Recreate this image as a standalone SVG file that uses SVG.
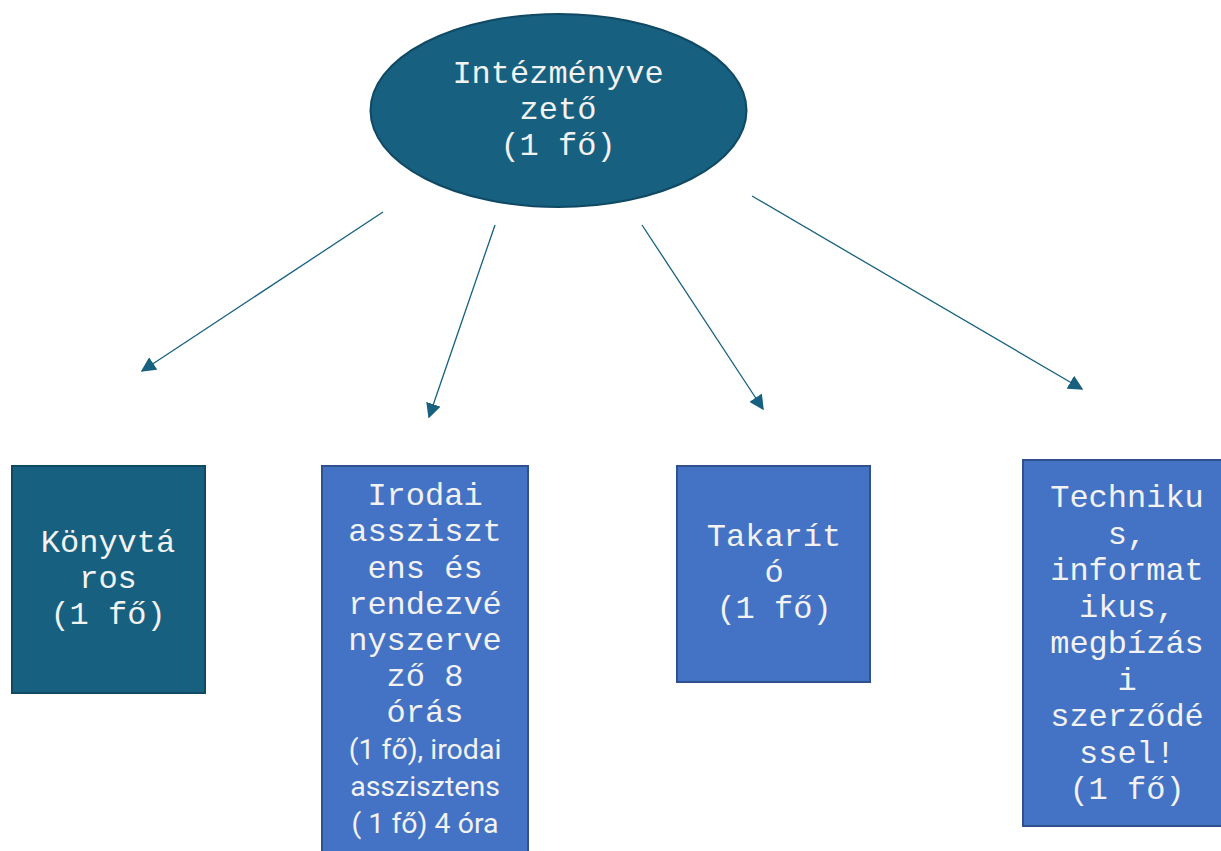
<svg xmlns="http://www.w3.org/2000/svg" width="1221" height="851" viewBox="0 0 1221 851">
<defs>
<style>
.mono{font-family:"Liberation Mono","Courier New",monospace;font-size:32px;fill:#f2f2f2;text-anchor:middle}
.sans{font-family:Roboto,"Liberation Sans",sans-serif;font-size:28.5px;fill:#f2f2f2;text-anchor:middle}
.dark{fill:#17607f;stroke:#104963;stroke-width:2}
.blue{fill:#4472c4;stroke:#2f528f;stroke-width:2}
.conn{stroke:#17607f;stroke-width:1.3;fill:none;marker-end:url(#arr)}
</style>
<marker id="arr" viewBox="0 0 10 10" refX="9" refY="5" markerWidth="15" markerHeight="15" markerUnits="userSpaceOnUse" orient="auto">
<path d="M0,0 L10,5 L0,10 z" fill="#17607f"/>
</marker>
</defs>
<rect width="1221" height="851" fill="#ffffff"/>
<g id="connectors">
<line class="conn" x1="383" y1="212" x2="142" y2="371"/>
<line class="conn" x1="495" y1="225" x2="429" y2="417"/>
<line class="conn" x1="642" y1="225" x2="763" y2="409"/>
<line class="conn" x1="752" y1="196" x2="1082" y2="389"/>
</g>
<g id="node-root">
<ellipse class="dark" cx="558.5" cy="110.5" rx="188" ry="96.5"/>
<text class="mono" x="558" y="83">Intézményve</text>
<text class="mono" x="558" y="119">zető</text>
<text class="mono" x="558" y="155">(1 fő)</text>
</g>
<g id="node-konyvtaros">
<rect class="dark" x="12" y="466" width="193" height="227"/>
<text class="mono" x="108" y="552">Könyvtá</text>
<text class="mono" x="108" y="588">ros</text>
<text class="mono" x="108" y="624">(1 fő)</text>
</g>
<g id="node-irodai">
<rect class="blue" x="322" y="466" width="206" height="400"/>
<text class="mono" x="425" y="505">Irodai</text>
<text class="mono" x="425" y="541">assziszt</text>
<text class="mono" x="425" y="578">ens és</text>
<text class="mono" x="425" y="614">rendezvé</text>
<text class="mono" x="425" y="650">nyszerve</text>
<text class="mono" x="425" y="686">ző 8</text>
<text class="mono" x="425" y="722">órás</text>
<text class="sans" x="425" y="759">(1 fő), irodai</text>
<text class="sans" x="425" y="796">asszisztens</text>
<text class="sans" x="425" y="833">( 1 fő) 4 óra</text>
</g>
<g id="node-takarito">
<rect class="blue" x="677" y="466" width="193" height="216"/>
<text class="mono" x="774" y="546">Takarít</text>
<text class="mono" x="774" y="582">ó</text>
<text class="mono" x="774" y="618">(1 fő)</text>
</g>
<g id="node-technikus">
<rect class="blue" x="1023" y="460" width="208" height="366"/>
<text class="mono" x="1127" y="507">Techniku</text>
<text class="mono" x="1127" y="544">s,</text>
<text class="mono" x="1127" y="580">informat</text>
<text class="mono" x="1127" y="617">ikus,</text>
<text class="mono" x="1127" y="653">megbízás</text>
<text class="mono" x="1127" y="690">i</text>
<text class="mono" x="1127" y="726">szerződé</text>
<text class="mono" x="1127" y="763">ssel!</text>
<text class="mono" x="1127" y="799">(1 fő)</text>
</g>
</svg>
